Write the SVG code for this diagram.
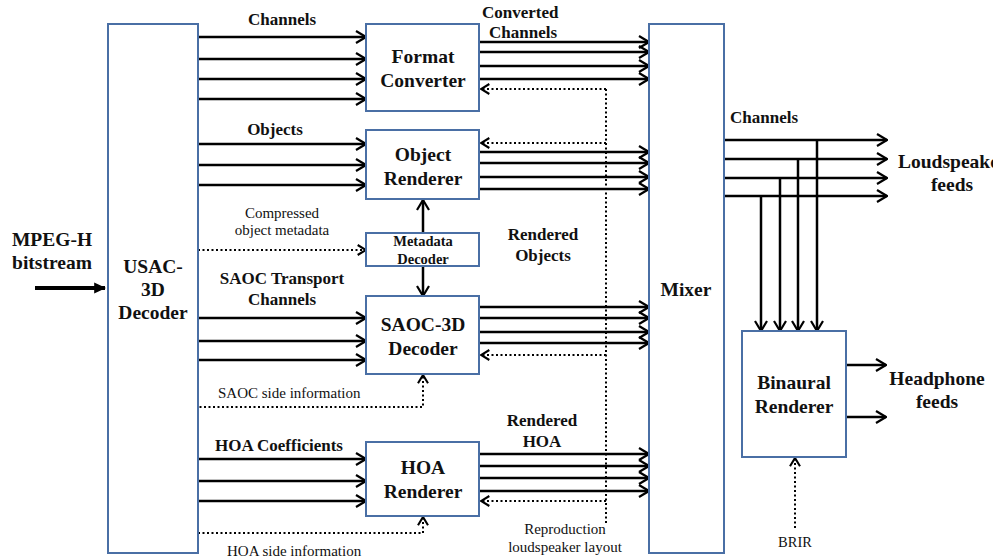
<svg xmlns="http://www.w3.org/2000/svg" width="993" height="558" viewBox="0 0 993 558">
  <style>
    .box { fill: #ffffff; stroke: #4a6fa5; stroke-width: 2; }
    .sig { fill: none; stroke: #000; stroke-width: 2.5; marker-end: url(#ah); }
    .ctl { fill: none; stroke: #000; stroke-width: 2; stroke-dasharray: 2 2.5; marker-end: url(#ahd); }
    .t  { font-family: "Liberation Serif", "Times New Roman", "DejaVu Serif", serif; fill: #111; }
    .b17 { font-size: 19.5px; font-weight: bold; text-anchor: middle; }
    .b15 { font-size: 17px; font-weight: bold; }
    .n13 { font-size: 15px; }
    .c { text-anchor: middle; }
    .s { text-anchor: start; }
  </style>
  <defs>
    <marker id="ah" viewBox="0 0 12 14" refX="11" refY="7" markerWidth="12" markerHeight="14" markerUnits="userSpaceOnUse" orient="auto">
      <path d="M1,1 L11,7 L1,13" fill="none" stroke="#000" stroke-width="2.2"/>
    </marker>
    <marker id="ahd" viewBox="0 0 12 14" refX="11" refY="7" markerWidth="10" markerHeight="12" markerUnits="userSpaceOnUse" orient="auto">
      <path d="M1,1 L11,7 L1,13" fill="none" stroke="#000" stroke-width="2.5" stroke-dasharray="none"/>
    </marker>
    <marker id="ahb" viewBox="0 0 10 10" refX="9" refY="5" markerWidth="12" markerHeight="12" markerUnits="userSpaceOnUse" orient="auto">
      <path d="M0,0.5 L10,5 L0,9.5 Z" fill="#000"/>
    </marker>
  </defs>

  <rect width="993" height="558" fill="#ffffff"/>

  <!-- connectors -->
  <g id="connectors">
    <!-- bitstream input -->
    <path d="M35,288 H105" fill="none" stroke="#000" stroke-width="4" marker-end="url(#ahb)"/>

    <!-- channels to format converter -->
    <path class="sig" d="M198,37 H366"/>
    <path class="sig" d="M198,59 H366"/>
    <path class="sig" d="M198,79 H366"/>
    <path class="sig" d="M198,99 H366"/>

    <!-- objects to object renderer -->
    <path class="sig" d="M198,144 H366"/>
    <path class="sig" d="M198,165 H366"/>
    <path class="sig" d="M198,185 H366"/>

    <!-- compressed object metadata -->
    <path class="ctl" d="M198,250 H366"/>

    <!-- metadata decoder outputs -->
    <path class="sig" d="M423,233 V200"/>
    <path class="sig" d="M423,266 V296"/>

    <!-- SAOC transport channels -->
    <path class="sig" d="M198,318 H366"/>
    <path class="sig" d="M198,341 H366"/>
    <path class="sig" d="M198,360 H366"/>

    <!-- SAOC side information -->
    <path class="ctl" d="M195,407 H423 V375"/>

    <!-- HOA coefficients -->
    <path class="sig" d="M198,459 H366"/>
    <path class="sig" d="M198,481 H366"/>
    <path class="sig" d="M198,501 H366"/>

    <!-- HOA side information -->
    <path class="ctl" d="M198,533 H423 V517"/>

    <!-- renderer outputs to mixer -->
    <path class="sig" d="M479,42 H649"/>
    <path class="sig" d="M479,52 H649"/>
    <path class="sig" d="M479,66 H649"/>
    <path class="sig" d="M479,79 H649"/>

    <path class="sig" d="M479,152 H649"/>
    <path class="sig" d="M479,163 H649"/>
    <path class="sig" d="M479,177 H649"/>
    <path class="sig" d="M479,189 H649"/>

    <path class="sig" d="M479,307 H649"/>
    <path class="sig" d="M479,318 H649"/>
    <path class="sig" d="M479,332 H649"/>
    <path class="sig" d="M479,343 H649"/>

    <path class="sig" d="M479,454 H649"/>
    <path class="sig" d="M479,466 H649"/>
    <path class="sig" d="M479,478 H649"/>
    <path class="sig" d="M479,491 H649"/>

    <!-- reproduction loudspeaker layout -->
    <path d="M606,89 V523" fill="none" stroke="#000" stroke-width="2" stroke-dasharray="2 2.5"/>
    <path class="ctl" d="M606,89 H481"/>
    <path class="ctl" d="M606,143 H481"/>
    <path class="ctl" d="M606,355 H481"/>
    <path class="ctl" d="M606,501 H481"/>

    <!-- mixer outputs -->
    <path class="sig" d="M724,140 H887"/>
    <path class="sig" d="M724,159 H887"/>
    <path class="sig" d="M724,178 H887"/>
    <path class="sig" d="M724,196 H887"/>

    <!-- channels to binaural renderer -->
    <path class="sig" d="M817,140 V331"/>
    <path class="sig" d="M798,159 V331"/>
    <path class="sig" d="M780,178 V331"/>
    <path class="sig" d="M761,196 V331"/>

    <!-- headphone feeds -->
    <path class="sig" d="M846,365 H886"/>
    <path class="sig" d="M846,417 H886"/>

    <!-- BRIR -->
    <path class="ctl" d="M795,528 V458"/>
  </g>

  <!-- nodes -->
  <g id="usac-decoder">
    <rect class="box" x="108" y="24" width="90" height="529"/>
    <text class="t b17" x="153" y="273">USAC-</text>
    <text class="t b17" x="153" y="296">3D</text>
    <text class="t b17" x="153" y="319">Decoder</text>
  </g>

  <g id="format-converter">
    <rect class="box" x="366" y="24" width="113" height="87"/>
    <text class="t b17" x="423" y="63">Format</text>
    <text class="t b17" x="423" y="87">Converter</text>
  </g>

  <g id="object-renderer">
    <rect class="box" x="366" y="130" width="113" height="69"/>
    <text class="t b17" x="423" y="161">Object</text>
    <text class="t b17" x="423" y="185">Renderer</text>
  </g>

  <g id="metadata-decoder">
    <rect class="box" x="366" y="233" width="113" height="33"/>
    <text class="t c" x="423" y="246" font-size="14.5" font-weight="bold">Metadata</text>
    <text class="t c" x="423" y="264" font-size="14.5" font-weight="bold">Decoder</text>
  </g>

  <g id="saoc-decoder">
    <rect class="box" x="366" y="296" width="113" height="78"/>
    <text class="t b17" x="423" y="331">SAOC-3D</text>
    <text class="t b17" x="423" y="355">Decoder</text>
  </g>

  <g id="hoa-renderer">
    <rect class="box" x="366" y="442" width="113" height="74"/>
    <text class="t b17" x="423" y="474">HOA</text>
    <text class="t b17" x="423" y="498">Renderer</text>
  </g>

  <g id="mixer">
    <rect class="box" x="649" y="24" width="75" height="529"/>
    <text class="t b17" x="686" y="296">Mixer</text>
  </g>

  <g id="binaural-renderer">
    <rect class="box" x="742" y="331" width="104" height="126"/>
    <text class="t b17" x="794" y="389">Binaural</text>
    <text class="t b17" x="794" y="413">Renderer</text>
  </g>

  <!-- labels -->
  <g id="labels">
    <text class="t b17" x="52" y="246">MPEG-H</text>
    <text class="t b17" x="52" y="269">bitstream</text>

    <text class="t b15 c" x="282" y="25">Channels</text>
    <text class="t b15 c" x="275" y="135">Objects</text>
    <text class="t n13 c" x="282" y="218">Compressed</text>
    <text class="t n13 c" x="282" y="235">object metadata</text>
    <text class="t b15 c" x="282" y="284">SAOC Transport</text>
    <text class="t b15 c" x="282" y="305">Channels</text>
    <text class="t n13" x="218" y="398">SAOC side information</text>
    <text class="t b15" x="215" y="451">HOA Coefficients</text>
    <text class="t n13" x="227" y="556">HOA side information</text>

    <text class="t b15" x="482" y="18">Converted</text>
    <text class="t b15" x="489" y="38">Channels</text>
    <text class="t b15 c" x="543" y="240">Rendered</text>
    <text class="t b15 c" x="543" y="261">Objects</text>
    <text class="t b15 c" x="542" y="426">Rendered</text>
    <text class="t b15 c" x="542" y="447">HOA</text>
    <text class="t n13 c" x="565" y="534">Reproduction</text>
    <text class="t n13 c" x="565" y="552">loudspeaker layout</text>

    <text class="t b15" x="730" y="123">Channels</text>
    <text class="t b17 s" x="898" y="168" style="text-anchor:start">Loudspeaker</text>
    <text class="t b17" x="952" y="191">feeds</text>
    <text class="t b17" x="937" y="385">Headphone</text>
    <text class="t b17" x="937" y="408">feeds</text>
    <text class="t c" x="795" y="547" font-size="14.5">BRIR</text>
  </g>
</svg>
